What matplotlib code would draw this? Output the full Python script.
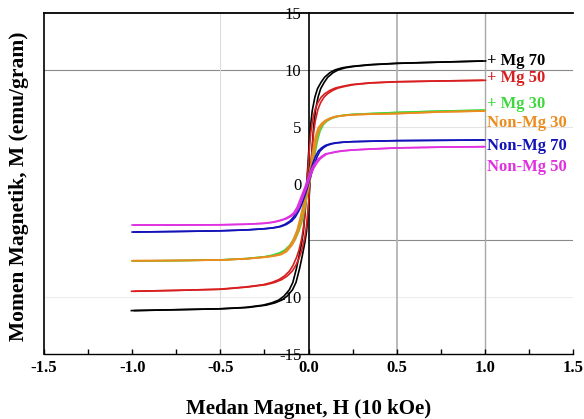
import matplotlib
matplotlib.use("Agg")
import matplotlib.pyplot as plt
import numpy as np

# ---- data ----
H = [-1.0, -0.75, -0.5, -0.35, -0.25, -0.2, -0.16, -0.13, -0.1, -0.08, -0.06,
     -0.045, -0.03, -0.02, -0.01, 0.0, 0.01, 0.02, 0.03, 0.045, 0.06, 0.08,
     0.1, 0.13, 0.16, 0.2, 0.25, 0.35, 0.5, 0.75, 1.0]

M_mg70 = [-11.18, -11.1, -11.02, -10.9, -10.7, -10.5, -10.25, -9.9, -9.35, -8.7, -7.5,
          -6.4, -5.2, -4.2, -2.4, 0.3, 2.8, 5.0, 6.4, 7.6, 8.35, 8.9,
          9.35, 9.75, 10.0, 10.18, 10.3, 10.45, 10.57, 10.68, 10.78]
M_mg50 = [-9.48, -9.4, -9.3, -9.1, -8.9, -8.7, -8.45, -8.15, -7.7, -7.2, -6.5,
          -5.8, -4.8, -3.8, -2.2, 0.2, 2.5, 4.4, 5.5, 6.5, 7.1, 7.6,
          7.9, 8.2, 8.4, 8.55, 8.7, 8.85, 8.95, 9.02, 9.08]
M_mg30 = [-6.82, -6.78, -6.72, -6.6, -6.45, -6.3, -6.1, -5.85, -5.4, -4.9, -4.2,
          -3.5, -2.5, -1.7, -0.8, 0.0, 0.8, 1.6, 2.5, 3.7, 4.6, 5.2,
          5.5, 5.75, 5.9, 6.0, 6.08, 6.15, 6.25, 6.37, 6.45]
M_non30 = [-6.79, -6.77, -6.73, -6.62, -6.48, -6.38, -6.25, -6.0, -5.45, -4.9, -4.1,
           -3.2, -2.2, -1.5, -0.7, 0.1, 0.9, 1.8, 2.9, 4.2, 4.9, 5.3,
           5.55, 5.78, 5.9, 5.98, 6.05, 6.1, 6.15, 6.3, 6.38]
M_non70 = [-4.27, -4.22, -4.16, -4.08, -3.98, -3.9, -3.78, -3.6, -3.3, -2.95, -2.4,
           -1.9, -1.25, -0.8, -0.3, 0.3, 0.8, 1.3, 1.8, 2.4, 2.85, 3.15,
           3.35, 3.5, 3.58, 3.64, 3.68, 3.72, 3.77, 3.8, 3.83]
M_non50 = [-3.65, -3.65, -3.63, -3.58, -3.5, -3.4, -3.25, -3.1, -2.85, -2.6, -2.1,
           -1.5, -0.9, -0.5, -0.1, 0.4, 0.8, 1.2, 1.5, 1.85, 2.15, 2.4,
           2.6, 2.7, 2.8, 2.88, 2.95, 3.03, 3.13, 3.2, 3.24]

# coercive field (half loop width) per sample, in 10 kOe
Hc = [0.009, 0.008, 0.005, 0.005, 0.005, 0.005]

labels = ["+ Mg 70", "+ Mg 50", "+ Mg 30", "Non-Mg 30", "Non-Mg 70", "Non-Mg 50"]
label_M = [10.75, 9.25, 7.0, 5.3, 3.3, 1.45]
colors = ["#000000", "#d81e1e", "#3ed83e", "#ec8c1e", "#1212b8", "#e030e0"]
series = [M_mg70, M_mg50, M_mg30, M_non30, M_non70, M_non50]

xticks = [-1.5, -1.0, -0.5, 0.0, 0.5, 1.0, 1.5]
yticks = [15, 10, 5, 0, -10, -15]

# ---- figure ----
FONT = "Liberation Serif"
fig = plt.figure(figsize=(5.84, 4.19), dpi=100)
ax = fig.add_axes([0.0753, 0.155, 0.906, 0.814])
ax.set_xlim(-1.5, 1.5)
ax.set_ylim(-15, 15)

# grid-like reference lines
ax.axhline(10, color="#8a8a8a", lw=0.8, zorder=0)
ax.axhline(-10, color="#ececec", lw=0.8, zorder=0)
ax.axhline(5, xmin=0.5, color="#e4e4e4", lw=0.8, zorder=0)
ax.axhline(-5, xmin=0.5, color="#8a8a8a", lw=0.8, zorder=0)
ax.axvline(-0.5, color="#dcdcdc", lw=0.8, zorder=0)
ax.axvline(0.5, color="#b4b4b4", lw=1.3, zorder=0)
ax.axvline(1.0, color="#a8a8a8", lw=1.0, zorder=0)

H_arr = np.array(H)
for M, c, hc in zip(series, colors, Hc):
    ax.plot(H_arr - hc, M, color=c, lw=1.2, zorder=3, solid_capstyle="butt")
    ax.plot(H_arr + hc, M, color=c, lw=1.2, zorder=3, solid_capstyle="butt")

for lab, ym, c in zip(labels, label_M, colors):
    ax.text(1.012, ym, lab, color=c, fontsize=12, fontweight="bold",
            family=FONT, ha="left", va="center", zorder=5)

# spines: left spine moved to x=0, outer frame lines
ax.spines["right"].set_visible(False)
ax.spines["left"].set_position(("data", 0))
ax.spines["left"].set_linewidth(1.2)
ax.spines["top"].set_linewidth(1.3)
ax.spines["bottom"].set_linewidth(1.0)
ax.axvline(-1.5, color="black", lw=1.2, clip_on=False, zorder=4)

ax.set_xticks(xticks)
ax.set_xticklabels([f"{t:.1f}" for t in xticks])
ax.set_xticks(np.arange(-1.5, 1.51, 0.25), minor=True)
ax.tick_params(axis="x", which="both", direction="in", length=3.5, width=1,
               labelsize=12, pad=4)
ax.set_yticks(yticks)
ax.set_yticklabels([str(t) for t in yticks])
ax.tick_params(axis="y", which="both", length=0, labelsize=12, pad=5)
for t in ax.get_xticklabels():
    t.set_fontfamily(FONT)
    t.set_fontweight("bold")
for t in ax.get_yticklabels():
    t.set_fontfamily(FONT)

ax.set_xlabel("Medan Magnet, H (10 kOe)", fontsize=15, fontweight="bold",
              family=FONT, labelpad=17)
fig.text(0.033, 0.556, "Momen Magnetik, M (emu/gram)", rotation=90,
         fontsize=15.5, fontweight="bold", family=FONT, ha="center", va="center")

fig.savefig("out.png", dpi=100)
